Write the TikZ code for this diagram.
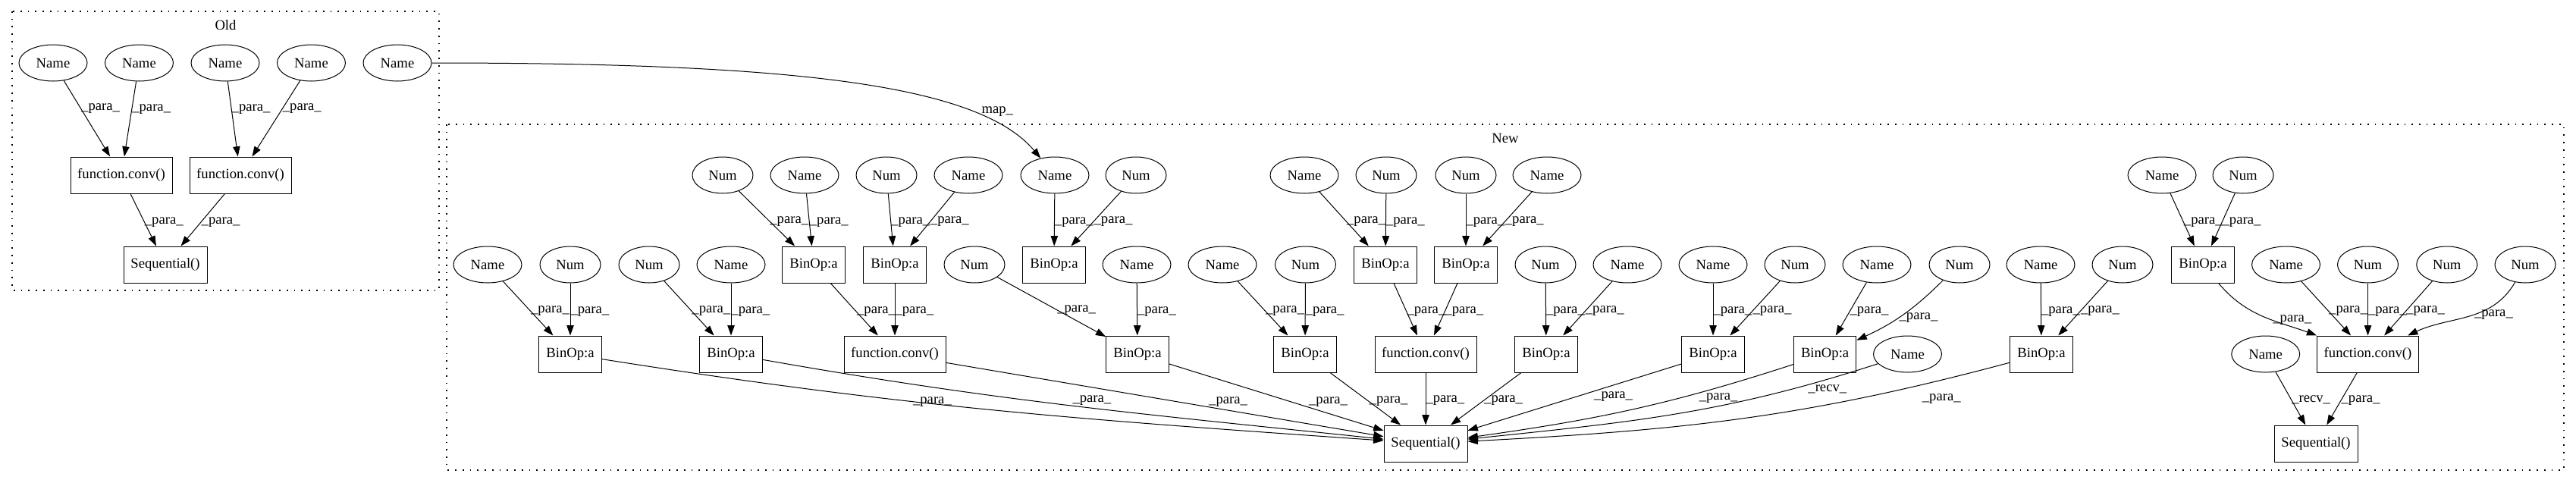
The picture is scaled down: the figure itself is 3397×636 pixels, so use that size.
\documentclass[tikz,border=0pt]{standalone}
\usepackage{fontspec}
\setmainfont{Liberation Serif}
\usetikzlibrary{arrows.meta,shapes.geometric}
\tikzset{
  namen/.style={ellipse, draw, line width=0.75pt, minimum width=67.5pt, minimum height=36pt, inner sep=0pt},
  numn/.style={namen, minimum width=60pt},
  opbox/.style={rectangle, draw, line width=0.75pt, minimum width=62pt, minimum height=36pt, inner sep=0pt},
  convbox/.style={opbox, minimum width=100.5pt},
  seqbox/.style={opbox, minimum width=82.5pt},
  arr/.style={-{Triangle[length=10pt,width=7pt]}, line width=0.75pt},
  elab/.style={anchor=west, inner sep=0pt, pos=0.55},
  clus/.style={line width=0.9pt, dash pattern=on 1.3pt off 6pt},
}

\begin{document}
\begin{tikzpicture}[x=0.75pt, y=-0.75pt, font=\fontsize{14}{16}\selectfont]
  \useasboundingbox (0,0) rectangle (3397,636);

  % Old
  \draw[clus] (16,15) rectangle (579,383);
  \node (oldt) at (297.5,33) {Old};
  \node[namen] (o1) at (70,83)    {Name};
  \node[namen] (o2) at (183.5,83) {Name};
  \node[namen] (o3) at (297,83)   {Name};
  \node[namen] (o4) at (410.5,83) {Name};
  \node[namen] (o5) at (524,83)   {Name};
  \node[convbox] (oc1) at (160,231) {function.conv()};
  \node[convbox] (oc2) at (317,231) {function.conv()};
  \node[seqbox]  (os)  at (218,349) {Sequential()};

  \draw[arr] (o1) -- node[elab,pos=0.37]{\_para\_} (oc1);
  \draw[arr] (o2) -- node[elab,pos=0.37]{\_para\_} (oc1);
  \draw[arr] (o3) -- node[elab,pos=0.37]{\_para\_} (oc2);
  \draw[arr] (o4) -- node[elab,pos=0.37]{\_para\_} (oc2);
  \draw[arr] (oc1) -- node[elab,pos=0.54]{\_para\_} (os);
  \draw[arr] (oc2) -- node[elab,pos=0.54]{\_para\_} (os);

  % New
  \draw[clus] (589,164) rectangle (3381,620);
  \node (newt) at (1985,182) {New};

  \node[numn]  (a1)  at (953,231)  {Num};
  \node[namen] (a2)  at (1061,231) {Name};
  \node[numn]  (a3)  at (1169,231) {Num};
  \node[namen] (a4)  at (1277,231) {Name};
  \node[namen] (a5)  at (1391,231) {Name};
  \node[numn]  (a6)  at (1498,231) {Num};
  \node[namen] (a7)  at (1720,231) {Name};
  \node[numn]  (a8)  at (1828,231) {Num};
  \node[numn]  (a9)  at (1933,231) {Num};
  \node[namen] (a10) at (2040,231) {Name};
  \node[namen] (a11) at (2851,231) {Name};
  \node[numn]  (a12) at (2958,231) {Num};

  \node[namen] (b1)  at (643,349)  {Name};
  \node[numn]  (b2)  at (752,349)  {Num};
  \node[numn]  (b3)  at (856,349)  {Num};
  \node[namen] (b4)  at (964,349)  {Name};
  \node[opbox] (b5)  at (1073,349) {BinOp:a};
  \node[opbox] (b6)  at (1180,349) {BinOp:a};
  \node[numn]  (b7)  at (1285,349) {Num};
  \node[opbox] (b8)  at (1390,349) {BinOp:a};
  \node[namen] (b9)  at (1499,349) {Name};
  \node[namen] (b10) at (1612,349) {Name};
  \node[numn]  (b11) at (1721.5,349) {Num};
  \node[opbox] (b12) at (1827,349) {BinOp:a};
  \node[opbox] (b13) at (1933,349) {BinOp:a};
  \node[numn]  (b14) at (2038,349) {Num};
  \node[namen] (b15) at (2146,349) {Name};
  \node[namen] (b16) at (2259,349) {Name};
  \node[numn]  (b17) at (2367,349) {Num};
  \node[namen] (b18) at (2475,349) {Name};
  \node[numn]  (b19) at (2584,349) {Num};
  \node[namen] (b20) at (2691,349) {Name};
  \node[numn]  (b21) at (2799,349) {Num};
  \node[opbox] (b22) at (2905,349) {BinOp:a};
  \node[namen] (b23) at (3014.5,349) {Name};
  \node[numn]  (b24) at (3122.5,349) {Num};
  \node[numn]  (b25) at (3226.7,349) {Num};
  \node[numn]  (b26) at (3330,349) {Num};

  \node[opbox]   (c1)  at (752,467)  {BinOp:a};
  \node[opbox]   (c2)  at (964,467)  {BinOp:a};
  \node[convbox] (c3)  at (1180,467) {function.conv()};
  \node[opbox]   (c4)  at (1500,467) {BinOp:a};
  \node[opbox]   (c5)  at (1721,467) {BinOp:a};
  \node[convbox] (c6)  at (1880,467) {function.conv()};
  \node[opbox]   (c7)  at (2039,467) {BinOp:a};
  \node[opbox]   (c8)  at (2259,467) {BinOp:a};
  \node[opbox]   (c9)  at (2406.6,467) {BinOp:a};
  \node[namen]   (c10) at (2515.5,467) {Name};
  \node[opbox]   (c11) at (2692,467) {BinOp:a};
  \node[namen]   (c12) at (2987.7,467) {Name};
  \node[convbox] (c13) at (3122.5,467) {function.conv()};

  \node[seqbox] (s1) at (1880,585) {Sequential()};
  \node[seqbox] (s2) at (3054,585) {Sequential()};

  % map edge between the two versions
  \draw[arr] (o5) to[out=0,in=130,out looseness=1.5,in looseness=0.4]
    node[pos=0.78,anchor=south west,inner sep=0pt]{map\_} (a5);

  \draw[arr] (a1) -- node[elab]{\_para\_} (b5);
  \draw[arr] (a2) -- node[elab]{\_para\_} (b5);
  \draw[arr] (a3) -- node[elab]{\_para\_} (b6);
  \draw[arr] (a4) -- node[elab]{\_para\_} (b6);
  \draw[arr] (a5) -- node[elab]{\_para\_} (b8);
  \draw[arr] (a6) -- node[elab]{\_para\_} (b8);
  \draw[arr] (a7) -- node[elab]{\_para\_} (b12);
  \draw[arr] (a8) -- node[elab]{\_para\_} (b12);
  \draw[arr] (a9) -- node[elab]{\_para\_} (b13);
  \draw[arr] (a10) -- node[elab]{\_para\_} (b13);
  \draw[arr] (a11) -- node[elab]{\_para\_} (b22);
  \draw[arr] (a12) -- node[elab]{\_para\_} (b22);

  \draw[arr] (b1) -- node[elab]{\_para\_} (c1);
  \draw[arr] (b2) -- node[elab]{\_para\_} (c1);
  \draw[arr] (b3) -- node[elab]{\_para\_} (c2);
  \draw[arr] (b4) -- node[elab]{\_para\_} (c2);
  \draw[arr] (b5) -- node[elab]{\_para\_} (c3);
  \draw[arr] (b6) -- node[elab]{\_para\_} (c3);
  \draw[arr] (b7) -- node[elab]{\_para\_} (c4);
  \draw[arr] (b9) -- node[elab]{\_para\_} (c4);
  \draw[arr] (b10) -- node[elab]{\_para\_} (c5);
  \draw[arr] (b11) -- node[elab]{\_para\_} (c5);
  \draw[arr] (b12) -- node[elab]{\_para\_} (c6);
  \draw[arr] (b13) -- node[elab]{\_para\_} (c6);
  \draw[arr] (b14) -- node[elab]{\_para\_} (c7);
  \draw[arr] (b15) -- node[elab]{\_para\_} (c7);
  \draw[arr] (b16) -- node[elab]{\_para\_} (c8);
  \draw[arr] (b17) -- node[elab]{\_para\_} (c8);
  \draw[arr] (b18) -- node[elab]{\_para\_} (c9);
  \draw[arr] (b19) to[bend left=10] node[elab]{\_para\_} (c9);
  \draw[arr] (b20) -- node[elab]{\_para\_} (c11);
  \draw[arr] (b21) -- node[elab]{\_para\_} (c11);
  \draw[arr] (b22) to[out=-50,in=160] node[elab,pos=0.6]{\_para\_} (c13);
  \draw[arr] (b23) -- node[elab]{\_para\_} (c13);
  \draw[arr] (b24) -- node[elab]{\_para\_} (c13);
  \draw[arr] (b25) -- node[elab]{\_para\_} (c13);
  \draw[arr] (b26) to[out=-120,in=25] node[elab,pos=0.45]{\_para\_} (c13);

  % fan-in to the big Sequential()
  \draw[arr] (c1) to[out=-9,in=176] node[elab,pos=0.39]{\_para\_} (s1);
  \draw[arr] (c2) to[out=-10,in=174] node[elab,anchor=south west,pos=0.5]{\_para\_} (s1);
  \draw[arr] (c3) -- node[elab,anchor=south west,pos=0.6]{\_para\_} (s1);
  \draw[arr] (c4) -- node[elab,anchor=south west,pos=0.65]{\_para\_} (s1);
  \draw[arr] (c5) -- node[elab,pos=0.55]{\_para\_} (s1);
  \draw[arr] (c6) -- node[elab,pos=0.53]{\_para\_} (s1);
  \draw[arr] (c7) -- node[elab,pos=0.53]{\_para\_} (s1);
  \draw[arr] (c8) -- node[elab,anchor=north west,pos=0.41]{\_para\_} (s1);
  \draw[arr] (c9) to[out=198,in=8] node[elab,anchor=north west,pos=0.28]{\_para\_} (s1);
  \draw[arr] (c10) to[out=198,in=6] node[elab,anchor=north west,pos=0.16]{\_recv\_} (s1);
  \draw[arr] (c11) to[out=195,in=3] node[elab,anchor=north west,pos=0.15,yshift=-9pt]{\_para\_} (s1);

  \draw[arr] (c12) -- node[elab,pos=0.53]{\_recv\_} (s2);
  \draw[arr] (c13) -- node[elab,pos=0.53]{\_para\_} (s2);
\end{tikzpicture}
\end{document}
